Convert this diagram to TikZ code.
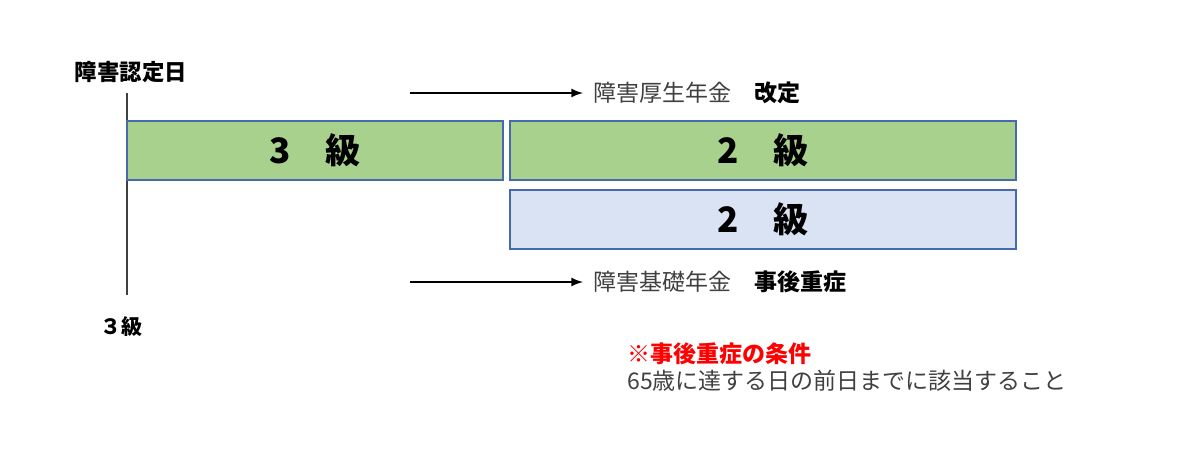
\documentclass[tikz,border=0pt]{standalone}
\usepackage{fontspec}
\setmainfont{Noto Sans CJK JP}
\usetikzlibrary{positioning}
\usetikzlibrary{arrows}
\definecolor{green-box}{RGB}{169,209,142}
\definecolor{blue-box}{RGB}{218,227,243}
\definecolor{box-line}{RGB}{70,106,172}
\definecolor{text-gray}{RGB}{64,64,64}
\definecolor{red}{RGB}{255,0,0}

\begin{document}
\begin{tikzpicture}[x=0.5pt, y=-0.5pt, node distance=5pt, >=latex,
  grade/.style={draw=box-line, line width=0.6pt, inner sep=0pt, minimum height=29.5pt,
    font=\fontsize{17.5}{20}\selectfont\bfseries, fill=#1},
  grade/.default=green-box,
  label-text/.style={inner sep=0pt, text=text-gray, font=\fontsize{11.5}{14}\selectfont},
  mark-text/.style={inner sep=0pt, font=\fontsize{11.2}{14}\selectfont\bfseries}]

\useasboundingbox (0,0) rectangle (1200,468);

% date line
\coordinate (d-top) at (127,93);
\coordinate (d-bot) at (127,295);
\draw [text-gray, line width=0.6pt] (d-top) -- (d-bot);

\node [mark-text] (date) at (131,72) {障害認定日};
\node [mark-text, font=\fontsize{10.5}{14}\selectfont\bfseries] (grade-start) at (121.5,327) {３級};

% grades
\node [grade, minimum width=188pt] (g3) at (315,150.5) {3　級};
\node [grade, minimum width=253pt] (g2-kosei) at (763,150.5) {2　級};
\node [grade=blue-box, minimum width=253pt] (g2-kiso) at (763,219.5) {2　級};

% arrows
\coordinate (a1-start) at (410,93);
\coordinate (a1-end) at (583,93);
\draw [->, line width=1pt] (a1-start) -- (a1-end);
\node [label-text, right = of a1-end] (kosei) {障害厚生年金　\textcolor{black}{\bfseries 改定}};

\coordinate (a2-start) at (410,282);
\coordinate (a2-end) at (583,282);
\draw [->, line width=1pt] (a2-start) -- (a2-end);
\node [label-text, right = of a2-end] (kiso) {障害基礎年金　\textcolor{black}{\bfseries 事後重症}};

% condition
\node [label-text, text=red, font=\fontsize{11.5}{14}\selectfont\bfseries, anchor=west] (cond-title) at (627,354) {※事後重症の条件};
\node [label-text, anchor=west] (cond-text) at (627,381) {65歳に達する日の前日までに該当すること};

\end{tikzpicture}
\end{document}
